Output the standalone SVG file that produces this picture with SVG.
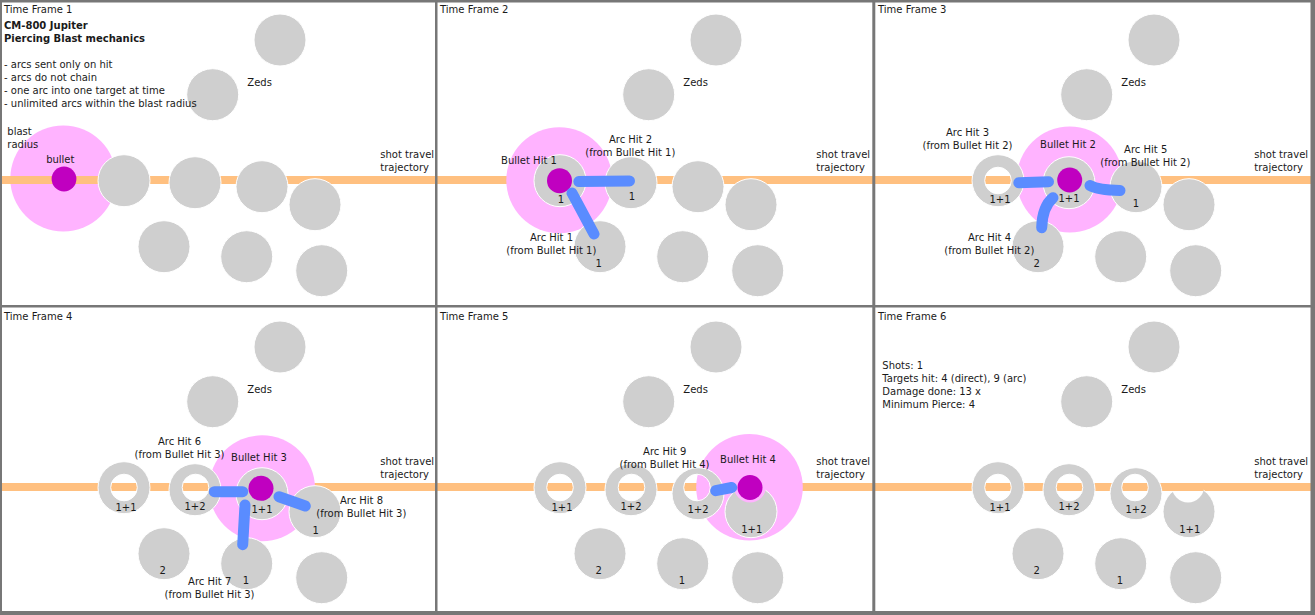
<svg xmlns="http://www.w3.org/2000/svg" width="1315" height="615" viewBox="0 0 1315 615">
<style>
.zed{fill:#cfcfcf;stroke:#fff;stroke-width:1}
.ring{fill:#cfcfcf;fill-rule:evenodd;stroke:#fff;stroke-width:1}
.blast{fill:#ffb3ff}
.bullet{fill:#c000c0}
.band{fill:#ffc080}
.arc{fill:none;stroke:#5a8cff;stroke-width:11;stroke-linecap:round}
.t{font-family:"DejaVu Sans","Liberation Sans",sans-serif;font-size:10px;fill:#1a1a1a}
.m{text-anchor:middle}
.b{font-weight:bold}
.grid{fill:#777}
</style>
<defs>
<mask id="bite" maskUnits="userSpaceOnUse" x="0" y="0" width="437" height="306">
<rect x="0" y="0" width="437" height="306" fill="#fff"/>
<circle cx="314" cy="179.5" r="16" fill="#000"/>
</mask>
<g id="common-text">
<text class="t" x="247.3" y="86">Zeds</text>
<text class="t" x="380.3" y="158">shot travel</text>
<text class="t" x="380.3" y="170.7">trajectory</text>
</g>
</defs>
<rect x="0" y="0" width="1315" height="615" fill="#fff"/>

<!-- Panel 1 -->
<g id="panel1">
<g id="p1-blast"><circle class="blast" cx="63.3" cy="178.5" r="53"/></g>
<rect class="band" x="0" y="176" width="437" height="8"/>
<g id="p1-zeds">
<circle id="p1-z1" class="zed" cx="280" cy="40" r="26"/>
<circle id="p1-z2" class="zed" cx="212.7" cy="94.7" r="26"/>
<circle id="p1-z3" class="zed" cx="124" cy="180.7" r="26"/>
<circle id="p1-z4" class="zed" cx="195" cy="182.7" r="26"/>
<circle id="p1-z5" class="zed" cx="262" cy="186.7" r="26"/>
<circle id="p1-z6" class="zed" cx="315" cy="204.7" r="26"/>
<circle id="p1-z7" class="zed" cx="164" cy="246.7" r="26"/>
<circle id="p1-z8" class="zed" cx="246.7" cy="256.7" r="26"/>
<circle id="p1-z9" class="zed" cx="321.7" cy="270.7" r="26"/>
</g>
<g id="p1-bullet"><circle class="bullet" cx="64" cy="179" r="12.4"/></g>
<g id="p1-text">
<text class="t" x="4" y="12.5">Time Frame 1</text>
<text class="t b" x="4" y="29">CM-800 Jupiter</text>
<text class="t b" x="4" y="42">Piercing Blast mechanics</text>
<text class="t" x="4" y="68">- arcs sent only on hit</text>
<text class="t" x="4" y="81">- arcs do not chain</text>
<text class="t" x="4" y="94">- one arc into one target at time</text>
<text class="t" x="4" y="107">- unlimited arcs within the blast radius</text>
<text class="t" x="7.3" y="135">blast</text>
<text class="t" x="7.3" y="148">radius</text>
<text class="t m" x="60.3" y="163">bullet</text>
<use href="#common-text"/>
</g>
</g>

<!-- Panel 2 -->
<g id="panel2" transform="translate(436,0)">
<rect class="band" x="0" y="176" width="437" height="8"/>
<g id="p2-blast"><circle class="blast" cx="123.3" cy="180.3" r="53"/></g>
<g id="p2-zeds">
<circle id="p2-z1" class="zed" cx="280" cy="40" r="26"/>
<circle id="p2-z2" class="zed" cx="212.7" cy="94.7" r="26"/>
<circle id="p2-z3" class="zed" cx="124" cy="180.7" r="26"/>
<circle id="p2-z4" class="zed" cx="195" cy="182.7" r="26"/>
<circle id="p2-z5" class="zed" cx="262" cy="186.7" r="26"/>
<circle id="p2-z6" class="zed" cx="315" cy="204.7" r="26"/>
<circle id="p2-z7" class="zed" cx="164" cy="246.7" r="26"/>
<circle id="p2-z8" class="zed" cx="246.7" cy="256.7" r="26"/>
<circle id="p2-z9" class="zed" cx="321.7" cy="270.7" r="26"/>
</g>
<g id="p2-bullet"><circle class="bullet" cx="123.5" cy="180.7" r="12.5"/></g>
<g id="p2-connectors">
<path class="arc" d="M142.8,181.5 L193.5,181"/>
<path class="arc" d="M136,193 L158,234"/>
</g>
<g id="p2-text">
<text class="t" x="4" y="12.5">Time Frame 2</text>
<use href="#common-text"/>
<text class="t m" x="93" y="164">Bullet Hit 1</text>
<text class="t m" x="125" y="202.7">1</text>
<text class="t m" x="194.5" y="142.7">Arc Hit 2</text>
<text class="t m" x="194.3" y="155.7">(from Bullet Hit 1)</text>
<text class="t m" x="196" y="200">1</text>
<text class="t m" x="115.5" y="240.7">Arc Hit 1</text>
<text class="t m" x="115.3" y="253.7">(from Bullet Hit 1)</text>
<text class="t m" x="162.7" y="266.7">1</text>
</g>
</g>

<!-- Panel 3 -->
<g id="panel3" transform="translate(874,0)">
<rect class="band" x="0" y="176" width="437" height="8"/>
<g id="p3-blast"><circle class="blast" cx="195.7" cy="179.5" r="53"/></g>
<g id="p3-zeds">
<circle id="p3-z1" class="zed" cx="280" cy="40" r="26"/>
<circle id="p3-z2" class="zed" cx="212.7" cy="94.7" r="26"/>
<path id="p3-z3" class="ring" d="M98,180.7 a26,26 0 1,0 52,0 a26,26 0 1,0 -52,0 Z M110.7,180.5 a13.3,13.3 0 1,0 26.6,0 a13.3,13.3 0 1,0 -26.6,0 Z"/>
<circle id="p3-z4" class="zed" cx="195" cy="182.7" r="26"/>
<circle id="p3-z5" class="zed" cx="262" cy="186.7" r="26"/>
<circle id="p3-z6" class="zed" cx="315" cy="204.7" r="26"/>
<circle id="p3-z7" class="zed" cx="164" cy="246.7" r="26"/>
<circle id="p3-z8" class="zed" cx="246.7" cy="256.7" r="26"/>
<circle id="p3-z9" class="zed" cx="321.7" cy="270.7" r="26"/>
</g>
<g id="p3-bullet"><circle class="bullet" cx="195.7" cy="180" r="12.5"/></g>
<g id="p3-connectors">
<path class="arc" d="M144.8,182.7 L174.5,181.7"/>
<path class="arc" d="M216,185.5 Q224,190 246,190.5"/>
<path class="arc" d="M179,197.7 Q168.3,206.7 167.7,227.7"/>
</g>
<g id="p3-text">
<text class="t" x="4" y="12.5">Time Frame 3</text>
<use href="#common-text"/>
<text class="t m" x="93.5" y="135.7">Arc Hit 3</text>
<text class="t m" x="93.5" y="148.7">(from Bullet Hit 2)</text>
<text class="t m" x="194" y="148">Bullet Hit 2</text>
<text class="t m" x="271.7" y="153.3">Arc Hit 5</text>
<text class="t m" x="271.3" y="166.3">(from Bullet Hit 2)</text>
<text class="t m" x="115.5" y="240.7">Arc Hit 4</text>
<text class="t m" x="115.3" y="253.7">(from Bullet Hit 2)</text>
<text class="t m" x="126" y="203.3">1+1</text>
<text class="t m" x="195" y="202.3">1+1</text>
<text class="t m" x="262" y="207.3">1</text>
<text class="t m" x="162.7" y="266.7">2</text>
</g>
</g>

<!-- Panel 4 -->
<g id="panel4" transform="translate(0,307)">
<rect class="band" x="0" y="176" width="437" height="8"/>
<g id="p4-blast"><circle class="blast" cx="262" cy="181.3" r="53"/></g>
<g id="p4-zeds">
<circle id="p4-z1" class="zed" cx="280" cy="40" r="26"/>
<circle id="p4-z2" class="zed" cx="212.7" cy="94.7" r="26"/>
<path id="p4-z3" class="ring" d="M98,180.7 a26,26 0 1,0 52,0 a26,26 0 1,0 -52,0 Z M110.7,180.5 a13.3,13.3 0 1,0 26.6,0 a13.3,13.3 0 1,0 -26.6,0 Z"/>
<path id="p4-z4" class="ring" d="M169,182.7 a26,26 0 1,0 52,0 a26,26 0 1,0 -52,0 Z M182.2,180.5 a13.3,13.3 0 1,0 26.6,0 a13.3,13.3 0 1,0 -26.6,0 Z"/>
<circle id="p4-z5" class="zed" cx="262" cy="186.7" r="26"/>
<circle id="p4-z6" class="zed" cx="315" cy="204.7" r="26"/>
<circle id="p4-z7" class="zed" cx="164" cy="246.7" r="26"/>
<circle id="p4-z8" class="zed" cx="246.7" cy="256.7" r="26"/>
<circle id="p4-z9" class="zed" cx="321.7" cy="270.7" r="26"/>
</g>
<g id="p4-bullet"><circle class="bullet" cx="261" cy="181.3" r="12.5"/></g>
<g id="p4-connectors">
<path class="arc" d="M214.3,184.7 L242.7,184.7"/>
<path class="arc" d="M279,189.7 L305.3,199"/>
<path class="arc" d="M245,198 L242.7,237.7"/>
</g>
<g id="p4-text">
<text class="t" x="4" y="12.5">Time Frame 4</text>
<use href="#common-text"/>
<text class="t m" x="179.5" y="137.7">Arc Hit 6</text>
<text class="t m" x="179.5" y="150.7">(from Bullet Hit 3)</text>
<text class="t m" x="259" y="153.7">Bullet Hit 3</text>
<text class="t m" x="361.5" y="196.7">Arc Hit 8</text>
<text class="t m" x="361.3" y="209.7">(from Bullet Hit 3)</text>
<text class="t m" x="209.7" y="277.7">Arc Hit 7</text>
<text class="t m" x="209.5" y="290.7">(from Bullet Hit 3)</text>
<text class="t m" x="126" y="203.5">1+1</text>
<text class="t m" x="195" y="202.5">1+2</text>
<text class="t m" x="262" y="205.5">1+1</text>
<text class="t m" x="315.7" y="226.7">1</text>
<text class="t m" x="162.7" y="266.5">2</text>
<text class="t m" x="246" y="276.5">1</text>
</g>
</g>

<!-- Panel 5 -->
<g id="panel5" transform="translate(436,307)">
<rect class="band" x="0" y="176" width="437" height="8"/>
<g id="p5-blast"><circle class="blast" cx="313.5" cy="180.3" r="53.3"/></g>
<g id="p5-zeds">
<circle id="p5-z1" class="zed" cx="280" cy="40" r="26"/>
<circle id="p5-z2" class="zed" cx="212.7" cy="94.7" r="26"/>
<path id="p5-z3" class="ring" d="M98,180.7 a26,26 0 1,0 52,0 a26,26 0 1,0 -52,0 Z M110.7,180.5 a13.3,13.3 0 1,0 26.6,0 a13.3,13.3 0 1,0 -26.6,0 Z"/>
<path id="p5-z4" class="ring" d="M169,182.7 a26,26 0 1,0 52,0 a26,26 0 1,0 -52,0 Z M182.2,180.5 a13.3,13.3 0 1,0 26.6,0 a13.3,13.3 0 1,0 -26.6,0 Z"/>
<path id="p5-z5" class="ring" d="M236,186.7 a26,26 0 1,0 52,0 a26,26 0 1,0 -52,0 Z M247.7,180.5 a13.3,13.3 0 1,0 26.6,0 a13.3,13.3 0 1,0 -26.6,0 Z"/>
<circle id="p5-z6" class="zed" cx="315" cy="204.7" r="26" mask="url(#bite)"/>
<circle id="p5-z7" class="zed" cx="164" cy="246.7" r="26"/>
<circle id="p5-z8" class="zed" cx="246.7" cy="256.7" r="26"/>
<circle id="p5-z9" class="zed" cx="321.7" cy="270.7" r="26"/>
</g>
<g id="p5-bullet"><circle class="bullet" cx="314" cy="180.5" r="12.5"/></g>
<g id="p5-connectors">
<path class="arc" d="M279.7,183.7 L295.7,180.5"/>
</g>
<g id="p5-text">
<text class="t" x="4" y="12.5">Time Frame 5</text>
<use href="#common-text"/>
<text class="t m" x="228.7" y="148.3">Arc Hit 9</text>
<text class="t m" x="228.5" y="161.3">(from Bullet Hit 4)</text>
<text class="t m" x="312" y="155.7">Bullet Hit 4</text>
<text class="t m" x="126" y="203.5">1+1</text>
<text class="t m" x="195" y="202.5">1+2</text>
<text class="t m" x="262" y="205.5">1+2</text>
<text class="t m" x="315.7" y="225.7">1+1</text>
<text class="t m" x="162.7" y="266.5">2</text>
<text class="t m" x="246" y="276.5">1</text>
</g>
</g>

<!-- Panel 6 -->
<g id="panel6" transform="translate(874,307)">
<rect class="band" x="0" y="176" width="437" height="8"/>
<g id="p6-zeds">
<circle id="p6-z1" class="zed" cx="280" cy="40" r="26"/>
<circle id="p6-z2" class="zed" cx="212.7" cy="94.7" r="26"/>
<path id="p6-z3" class="ring" d="M98,180.7 a26,26 0 1,0 52,0 a26,26 0 1,0 -52,0 Z M110.7,180.5 a13.3,13.3 0 1,0 26.6,0 a13.3,13.3 0 1,0 -26.6,0 Z"/>
<path id="p6-z4" class="ring" d="M169,182.7 a26,26 0 1,0 52,0 a26,26 0 1,0 -52,0 Z M182.2,180.5 a13.3,13.3 0 1,0 26.6,0 a13.3,13.3 0 1,0 -26.6,0 Z"/>
<path id="p6-z5" class="ring" d="M236,186.7 a26,26 0 1,0 52,0 a26,26 0 1,0 -52,0 Z M247.7,180.5 a13.3,13.3 0 1,0 26.6,0 a13.3,13.3 0 1,0 -26.6,0 Z"/>
<circle id="p6-z6" class="zed" cx="315" cy="204.7" r="26" mask="url(#bite)"/>
<circle id="p6-z7" class="zed" cx="164" cy="246.7" r="26"/>
<circle id="p6-z8" class="zed" cx="246.7" cy="256.7" r="26"/>
<circle id="p6-z9" class="zed" cx="321.7" cy="270.7" r="26"/>
</g>
<g id="p6-text">
<text class="t" x="4" y="12.5">Time Frame 6</text>
<use href="#common-text"/>
<text class="t" x="8.3" y="61.7">Shots: 1</text>
<text class="t" x="8.3" y="74.7">Targets hit: 4 (direct), 9 (arc)</text>
<text class="t" x="8.3" y="87.7">Damage done: 13 x</text>
<text class="t" x="8.3" y="100.7">Minimum Pierce: 4</text>
<text class="t m" x="126" y="203.5">1+1</text>
<text class="t m" x="195" y="202.5">1+2</text>
<text class="t m" x="262" y="205.5">1+2</text>
<text class="t m" x="315.7" y="225.7">1+1</text>
<text class="t m" x="162.7" y="266.5">2</text>
<text class="t m" x="246" y="276.5">1</text>
</g>
</g>

<!-- Frame grid -->
<g id="frame-grid">
<rect class="grid" x="0" y="0" width="1315" height="2.5"/>
<rect class="grid" x="0" y="0" width="2" height="615"/>
<rect class="grid" x="1310.5" y="0" width="4.5" height="615"/>
<rect class="grid" x="0" y="611" width="1315" height="4"/>
<rect class="grid" x="435" y="0" width="2.5" height="615"/>
<rect class="grid" x="872.3" y="0" width="3" height="615"/>
<rect class="grid" x="0" y="305" width="1315" height="2.5"/>
</g>
</svg>
